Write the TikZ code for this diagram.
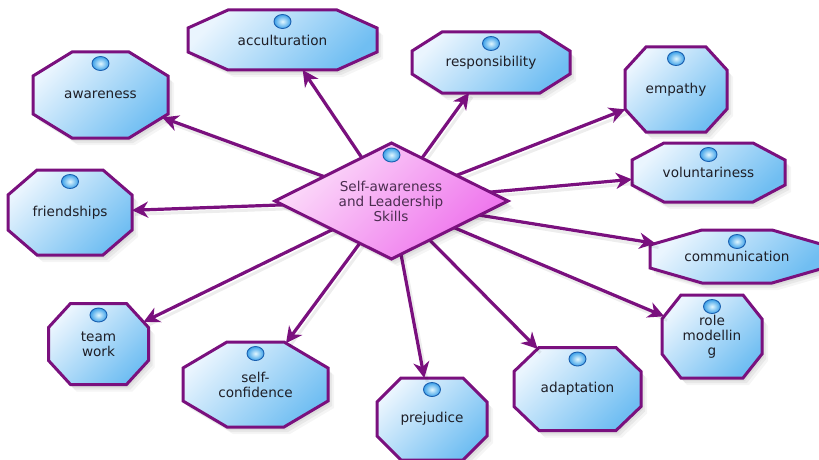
\documentclass[tikz,border=0pt]{standalone}
\usepackage{fontspec}
\setmainfont{DejaVu Sans}
\usetikzlibrary{arrows.meta,intersections,shadows}

\definecolor{rim}{RGB}{122,16,126}
\definecolor{octtop}{RGB}{234,245,254}
\definecolor{octbot}{RGB}{112,190,242}
\definecolor{diatop}{RGB}{252,222,250}
\definecolor{diabot}{RGB}{238,112,236}
\definecolor{ink}{RGB}{30,30,38}
\definecolor{diaink}{RGB}{75,45,80}
\definecolor{knobhi}{RGB}{225,247,255}
\definecolor{knobblue}{RGB}{60,160,232}
\definecolor{knobedge}{RGB}{25,95,175}

\pgfdeclarelayer{base}
\pgfdeclarelayer{links}
\pgfsetlayers{base,links,main}

\tikzset{
  softshadow/.style={
    general shadow={fill=black,opacity=.05,shadow xshift=2pt,shadow yshift=-3pt},
    general shadow={fill=black,opacity=.05,shadow xshift=4pt,shadow yshift=-5pt},
    general shadow={fill=black,opacity=.04,shadow xshift=6pt,shadow yshift=-7pt}},
  octshape/.style={softshadow, draw=rim, line width=3pt, line join=miter,
    top color=octtop, bottom color=octbot, shading angle=45},
  diamondshape/.style={softshadow, draw=rim, line width=3pt, line join=miter,
    top color=diatop, bottom color=diabot, shading angle=45},
  knob/.style={inner color=knobhi, outer color=knobblue, draw=knobedge,
    line width=.9pt},
  octlabel/.style={align=center, text=ink, inner sep=0pt,
    font=\fontsize{13.6}{15}\selectfont},
  hublabel/.style={align=center, text=diaink, inner sep=0pt,
    font=\fontsize{13.6}{15}\selectfont},
  link/.style={draw=rim, line width=3.2pt,
    -{Stealth[length=16pt,width=16pt,inset=5pt]}},
  linkshadow/.style={draw=black, opacity=.07, line width=3pt,
    transform canvas={shift={(3pt,-4pt)}}}
}

% name, x, y, half width, half height, corner cut x, corner cut y, text
\newcommand\octnode[8]{%
  \begin{pgfonlayer}{base}
  \path[octshape, name path global=#1-rim]
    ({#2-#4+#6},{#3-#5}) -- ({#2+#4-#6},{#3-#5}) -- ({#2+#4},{#3-#5+#7})
    -- ({#2+#4},{#3+#5-#7}) -- ({#2+#4-#6},{#3+#5}) -- ({#2-#4+#6},{#3+#5})
    -- ({#2-#4},{#3+#5-#7}) -- ({#2-#4},{#3-#5+#7}) -- cycle;
  \path[knob] ({#2},{#3-#5+11.5}) ellipse [x radius=8.5pt, y radius=7pt];
  \node[octlabel] (#1) at (#2,#3) {#8};
  \end{pgfonlayer}%
}

\begin{document}
\begin{tikzpicture}[x=1pt,y=-1pt]
\useasboundingbox (0,0) rectangle (819,460);
\begin{pgfonlayer}{base}
  \fill[white] (0,0) rectangle (819,460);
\end{pgfonlayer}

% central diamond
\path[diamondshape] (391.5,143) -- (508,201) -- (391.5,259) -- (275,201) -- cycle;
\path[knob] (391.5,155) ellipse [x radius=8.5pt, y radius=7pt];
\node[hublabel] (hub) at (391,201) {Self-awareness\\and Leadership\\Skills};

% surrounding octagons
\octnode{aw}{100.5}{95}{67.5}{43}{39}{24}{awareness}
\octnode{ac}{282.5}{40}{94.5}{30}{40}{18}{acculturation}
\octnode{re}{491}{62.5}{79}{30.5}{30}{19}{responsibility}
\octnode{em}{676}{89.5}{51}{42.5}{21}{23}{empathy}
\octnode{vo}{708.5}{172.5}{76.5}{29.5}{32}{17}{voluntariness}
\octnode{co}{737}{256.5}{87}{26.5}{52}{15}{communication}
\octnode{rm}{712}{336.5}{50}{41.5}{19}{24}{role\\modellin\\g}
\octnode{ad}{577.5}{389}{63.5}{41.5}{25}{24}{adaptation}
\octnode{pr}{432}{419}{55}{41}{24}{24}{prejudice}
\octnode{sc}{255.5}{384.5}{72.5}{42.5}{44}{26}{self-\\confidence}
\octnode{tw}{98.5}{344}{50}{40.5}{22}{24}{team\\work}
\octnode{fr}{70}{212.5}{62}{42.5}{29}{25}{friendships}

% connectors from the hub to every octagon
\begin{pgfonlayer}{links}
\foreach \n in {aw,ac,re,em,vo,co,rm,ad,pr,sc,tw,fr}{
  \path[name path=ray] (hub.center) -- (\n.center);
  \path[name intersections={of=ray and \n-rim, by={\n-tip}}];
  \draw[linkshadow] (hub.center) -- (\n-tip);
  \draw[link] (hub.center) -- (\n-tip);
}
\end{pgfonlayer}
\end{tikzpicture}
\end{document}
